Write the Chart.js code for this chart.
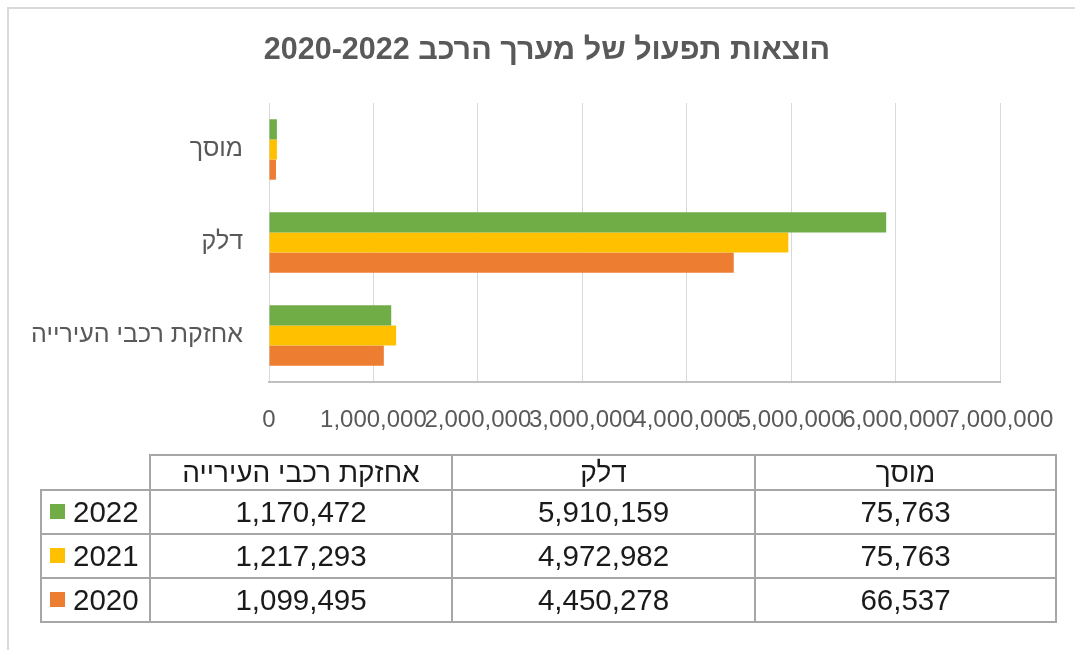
<!DOCTYPE html>
<html lang="he">
<head>
<meta charset="utf-8">
<title>הוצאות תפעול של מערך הרכב</title>
<script src="https://cdn.jsdelivr.net/npm/chart.js@4.4.1/dist/chart.umd.min.js"></script>
<style>
  html, body { margin: 0; padding: 0; background: #fff; overflow: hidden; }
  #wrap { position: relative; width: 1075px; height: 650px; overflow: hidden; }
  #frame {
    position: absolute; left: 7px; top: 7px; width: 2000px; height: 2000px;
    border-top: 2px solid #d9d9d9; border-left: 2px solid #d9d9d9;
  }
  #chart { position: absolute; left: 0; top: 0; }
  #table {
    position: absolute; left: 40px; top: 454px;
    border-collapse: collapse; table-layout: fixed;
    font-family: 'Liberation Sans', Arial, sans-serif; color: #1a1a1a;
  }
  #table td { border: 2px solid #a6a6a6; text-align: center; padding: 0; white-space: nowrap; }
  #table tr.head td { height: 33px; font-size: 28px; }
  #table tr.row td { height: 42px; font-size: 29.5px; }
  #table td.corner { border-top: none; border-left: none; }
  #table td.key { text-align: left; padding-left: 8px; font-size: 31px; }
  .swatch { display: inline-block; width: 15px; height: 15px; margin-right: 8px; vertical-align: 3px; }
</style>
</head>
<body>
<div id="wrap">
  <div id="frame"></div>
  <canvas id="chart" width="1075" height="650"></canvas>
  <table id="table"></table>
</div>
<script>
// categories in data order (first one is drawn at the bottom, like Excel)
const categories = ['אחזקת רכבי העירייה', 'דלק', 'מוסך'];
const years = ['2022', '2021', '2020'];
const values2022 = [1170472, 5910159, 75763];
const values2021 = [1217293, 4972982, 75763];
const values2020 = [1099495, 4450278, 66537];
const yearColors = ['#70ad47', '#ffc000', '#ed7d31'];
const xMax = 7000000;
const xStep = 1000000;
const chartTitle = 'הוצאות תפעול של מערך הרכב 2020-2022';

const series = [values2022, values2021, values2020];
const fmt = v => Number(v).toLocaleString('en-US');
const fontFamily = "'Liberation Sans', Arial, sans-serif";

Chart.defaults.font.family = fontFamily;

// title is centred on the whole frame, not on the plot, so draw it here
const titlePlugin = {
  id: 'frameTitle',
  afterDraw(chart) {
    const c = chart.ctx;
    c.save();
    c.font = 'bold 30.5px ' + fontFamily;
    c.fillStyle = '#595959';
    c.textAlign = 'center';
    c.textBaseline = 'middle';
    c.fillText(chartTitle, 547, 51);
    c.restore();
  },
};

const ctx = document.getElementById('chart');
new Chart(ctx, {
  type: 'bar',
  data: {
    labels: categories,
    datasets: years.map((y, i) => ({
      label: y,
      data: series[i],
      backgroundColor: yearColors[i],
      borderWidth: 0,
      barPercentage: 1,
      categoryPercentage: 0.65,
    })),
  },
  plugins: [titlePlugin],
  options: {
    indexAxis: 'y',
    responsive: false,
    animation: false,
    layout: { padding: { left: 0, right: 75, top: 103, bottom: 218 } },
    plugins: {
      legend: { display: false },
      tooltip: { enabled: false },
      title: { display: false },
    },
    scales: {
      x: {
        min: 0,
        max: xMax,
        ticks: {
          stepSize: xStep,
          autoSkip: false,
          maxRotation: 0,
          minRotation: 0,
          padding: 24,
          color: '#595959',
          font: { size: 24 },
          callback: v => fmt(v),
        },
        grid: { color: '#d9d9d9', drawTicks: false },
        border: { color: '#bfbfbf', width: 2 },
        afterFit: s => { s.height = 50; s.paddingLeft = 0; s.paddingRight = 0; },
      },
      y: {
        reverse: true,
        ticks: { padding: 26, color: '#595959', font: { size: 25 } },
        grid: { display: false, drawTicks: false },
        border: { display: false },
        afterFit: s => { s.width = 269; s.paddingTop = 0; s.paddingBottom = 0; },
      },
    },
  },
});

// data table under the chart (Excel style, doubles as the legend)
const table = document.getElementById('table');
const colWidths = [109, 302, 303, 301];
const cg = document.createElement('colgroup');
colWidths.forEach(w => {
  const c = document.createElement('col');
  c.style.width = w + 'px';
  cg.appendChild(c);
});
table.appendChild(cg);

const head = document.createElement('tr');
head.className = 'head';
const corner = document.createElement('td');
corner.className = 'corner';
head.appendChild(corner);
categories.forEach(cat => {
  const td = document.createElement('td');
  td.textContent = cat;
  td.dir = 'rtl';
  head.appendChild(td);
});
table.appendChild(head);

years.forEach((y, i) => {
  const tr = document.createElement('tr');
  tr.className = 'row';
  const key = document.createElement('td');
  key.className = 'key';
  const sw = document.createElement('span');
  sw.className = 'swatch';
  sw.style.background = yearColors[i];
  key.appendChild(sw);
  key.appendChild(document.createTextNode(y));
  tr.appendChild(key);
  series[i].forEach(v => {
    const td = document.createElement('td');
    td.textContent = fmt(v);
    tr.appendChild(td);
  });
  table.appendChild(tr);
});
</script>
</body>
</html>
